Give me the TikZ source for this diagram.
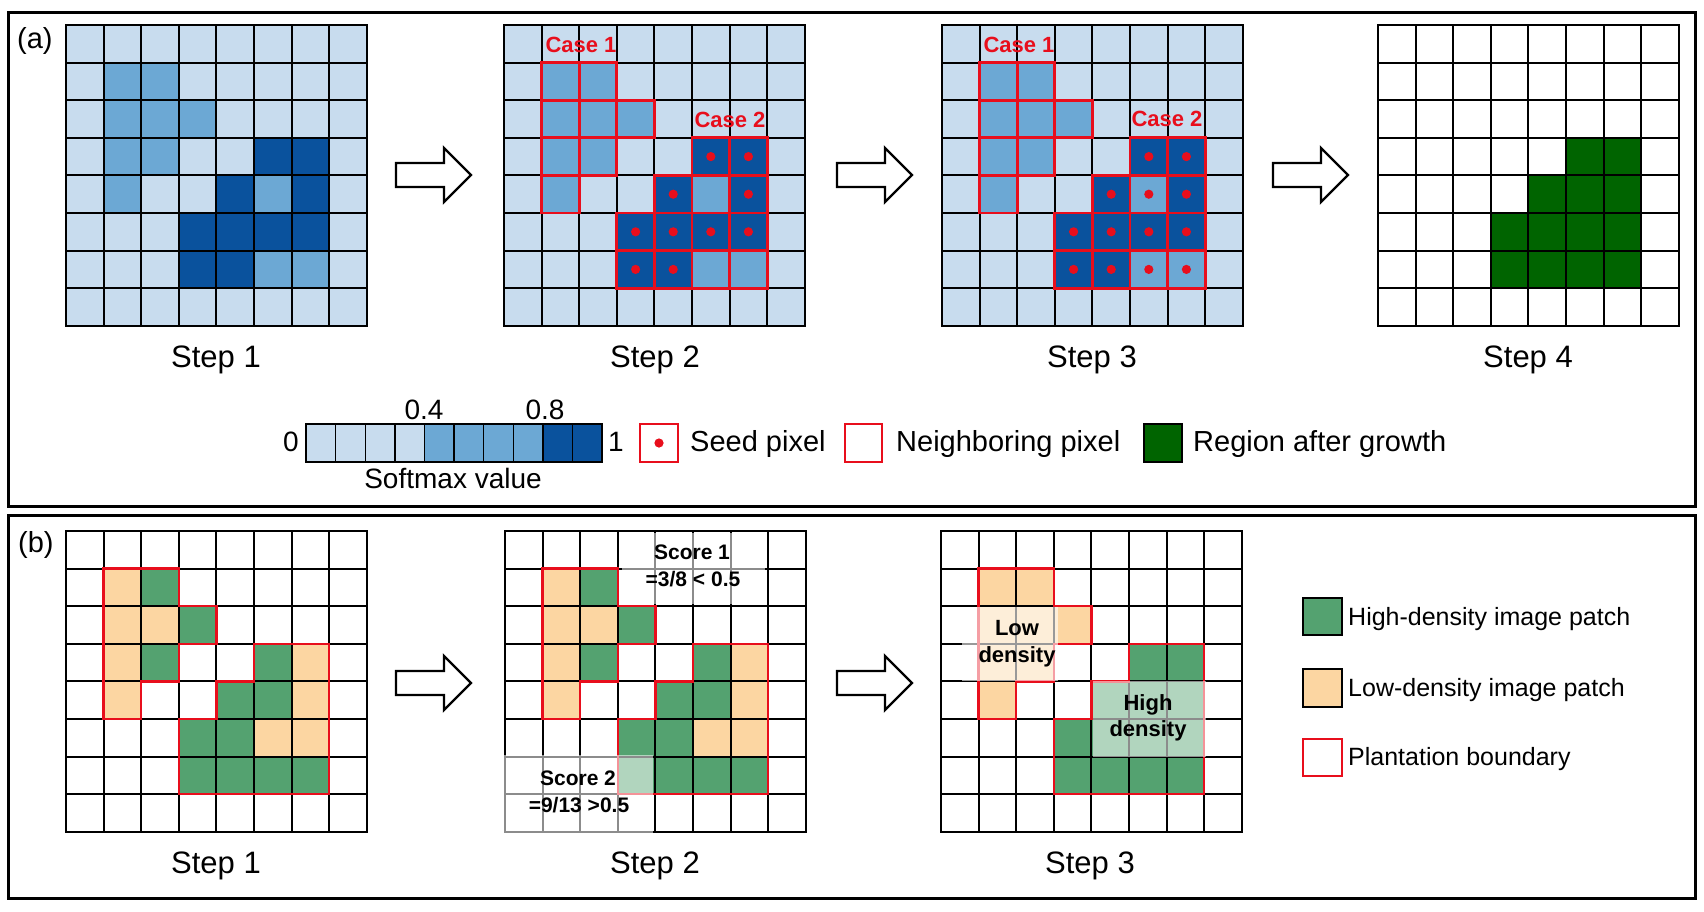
\documentclass[tikz,border=0pt]{standalone}
\usepackage{fontspec}
\setmainfont{Liberation Sans}
\definecolor{lb}{RGB}{200,220,238}
\definecolor{mb}{RGB}{108,168,212}
\definecolor{db}{RGB}{10,82,157}
\definecolor{dg}{RGB}{0,100,0}
\definecolor{hg}{RGB}{84,162,112}
\definecolor{lo}{RGB}{252,214,162}
\definecolor{rd}{RGB}{232,14,28}
\tikzset{
  gl/.style={line width=2pt, black, line cap=rect},
  rl/.style={line width=2.8pt, rd, line join=miter},
  rb/.style={line width=2.4pt, rd, line join=miter},
  frame/.style={line width=3pt, black},
  blockarrow/.style={line width=2.4pt, black, fill=white, line join=miter},
  steplbl/.style={inner sep=0pt, anchor=base, font=\fontsize{31}{35}\selectfont},
  panellbl/.style={inner sep=0pt, anchor=base west, font=\fontsize{29}{33}\selectfont},
  caselbl/.style={inner sep=0pt, anchor=base, text=rd, font=\fontsize{22}{26}\selectfont\bfseries},
  scorelbl/.style={inner sep=0pt, anchor=base, font=\fontsize{21}{25}\selectfont\bfseries},
  denslbl/.style={inner sep=0pt, anchor=base, font=\fontsize{22}{26}\selectfont\bfseries},
  legA/.style={inner sep=0pt, anchor=base west, font=\fontsize{29}{33}\selectfont},
  legAc/.style={inner sep=0pt, anchor=base, font=\fontsize{28}{32}\selectfont},
  legB/.style={inner sep=0pt, anchor=base west, font=\fontsize{25}{29}\selectfont},
  veil/.style={fill=white, fill opacity=0.55},
}
\newcommand{\gridlinesall}{\foreach \i in {0,...,8}{\draw[gl] (\i,0)--(\i,8); \draw[gl] (0,\i)--(8,\i);}}
\newcommand{\bluecells}{%
  \fill[lb] (0,0) rectangle (8,8);
  \foreach \c/\r in {1/1,2/1,1/2,2/2,3/2,1/3,2/3,1/4,5/4,5/6,6/6} \fill[mb] (\c,\r) rectangle ++(1,1);
  \foreach \c/\r in {5/3,6/3,4/4,6/4,3/5,4/5,5/5,6/5,3/6,4/6} \fill[db] (\c,\r) rectangle ++(1,1);
}
\newcommand{\caseboxes}{%
  \foreach \c/\r in {1/1,2/1,1/2,2/2,3/2,1/3,2/3,1/4,5/3,6/3,4/4,5/4,6/4,3/5,4/5,5/5,6/5,3/6,4/6,5/6,6/6} \draw[rl] (\c,\r) rectangle ++(1,1);
}
\newcommand{\densitycells}{%
  \foreach \c/\r in {1/1,1/2,2/2,1/3,6/3,1/4,6/4,5/5,6/5} \fill[lo] (\c,\r) rectangle ++(1,1);
  \foreach \c/\r in {2/1,3/2,2/3,5/3,4/4,5/4,3/5,4/5,3/6,4/6,5/6,6/6} \fill[hg] (\c,\r) rectangle ++(1,1);
}
\newcommand{\boundaries}{%
  \draw[rb] (1,1)--(3,1)--(3,2)--(4,2)--(4,3)--(3,3)--(3,4)--(2,4)--(2,5)--(1,5)--cycle;
  \draw[rb] (5,3)--(7,3)--(7,7)--(3,7)--(3,5)--(4,5)--(4,4)--(5,4)--cycle;
}
\begin{document}
\begin{tikzpicture}[x=1pt,y=-1pt]
\useasboundingbox (0,0) rectangle (1704,911);
\fill[white] (0,0) rectangle (1704,911);
% panel frames
\draw[frame] (8,12) rectangle (1695,506);
\draw[frame] (8,515) rectangle (1695,898);
\node[panellbl] (pa) at (17,48) {(a)};
\node[panellbl] (pb) at (18,552) {(b)};

% ---------- (a) step 1
\begin{scope}[shift={(66,25)},x=37.6pt,y=-37.6pt]
  \bluecells
  \gridlinesall
\end{scope}
% ---------- (a) step 2
\begin{scope}[shift={(504,25)},x=37.6pt,y=-37.6pt]
  \bluecells
  \gridlinesall
  \caseboxes
  \foreach \c/\r in {5/3,6/3,4/4,6/4,3/5,4/5,5/5,6/5,3/6,4/6} \fill[rd] (\c+0.5,\r+0.5) circle (4.6pt);
\end{scope}
% ---------- (a) step 3
\begin{scope}[shift={(942,25)},x=37.6pt,y=-37.6pt]
  \bluecells
  \gridlinesall
  \caseboxes
  \foreach \c/\r in {5/3,6/3,4/4,5/4,6/4,3/5,4/5,5/5,6/5,3/6,4/6,5/6,6/6} \fill[rd] (\c+0.5,\r+0.5) circle (4.6pt);
\end{scope}
% ---------- (a) step 4
\begin{scope}[shift={(1378,25)},x=37.6pt,y=-37.6pt]
  \foreach \c/\r in {5/3,6/3,4/4,5/4,6/4,3/5,4/5,5/5,6/5,3/6,4/6,5/6,6/6} \fill[dg] (\c,\r) rectangle ++(1,1);
  \gridlinesall
\end{scope}
\node[caselbl] (c1a) at (581,52) {Case 1};
\node[caselbl] (c2a) at (730,127) {Case 2};
\node[caselbl] (c1b) at (1019,52) {Case 1};
\node[caselbl] (c2b) at (1167,126) {Case 2};

\node[steplbl] (s1a) at (216,367) {Step 1};
\node[steplbl] (s2a) at (655,367) {Step 2};
\node[steplbl] (s3a) at (1092,367) {Step 3};
\node[steplbl] (s4a) at (1528,367) {Step 4};

% block arrows
\foreach \xo/\yc in {396/175,837/175,1273/175,396/683,837/683}
  \draw[blockarrow] (\xo,\yc-12)--(\xo+48,\yc-12)--(\xo+48,\yc-27)--(\xo+75,\yc)--(\xo+48,\yc+27)--(\xo+48,\yc+12)--(\xo,\yc+12)--cycle;

% ---------- (a) legend
\foreach \i in {0,1,2,3} \fill[lb] (306+\i*29.6,424) rectangle ++(29.6,38);
\foreach \i in {4,5,6,7} \fill[mb] (306+\i*29.6,424) rectangle ++(29.6,38);
\foreach \i in {8,9} \fill[db] (306+\i*29.6,424) rectangle ++(29.6,38);
\foreach \i in {1,...,9} \draw[line width=1.4pt] (306+\i*29.6,424)--(306+\i*29.6,462);
\draw[line width=1.8pt] (306,424) rectangle (602,462);
\node[legAc] (l0) at (291,451) {0};
\node[legAc] (l1) at (616,451) {1};
\node[legAc] (l04) at (424,419) {0.4};
\node[legAc] (l08) at (545,419) {0.8};
\node[legAc] (lsm) at (453,488) {Softmax value};
\draw[rb] (640,424) rectangle (678,462);
\fill[rd] (659,443) circle (4.6pt);
\node[legA] (lseed) at (690,451) {Seed pixel};
\draw[rb] (845,424) rectangle (882,462);
\node[legA] (lnb) at (896,451) {Neighboring pixel};
\draw[line width=2pt, fill=dg] (1144,424) rectangle (1182,462);
\node[legA] (lrg) at (1193,451) {Region after growth};

% ---------- (b) step 1
\begin{scope}[shift={(66,531)},x=37.6pt,y=-37.6pt]
  \densitycells
  \gridlinesall
  \boundaries
\end{scope}
% ---------- (b) step 2
\begin{scope}[shift={(505,531)},x=37.6pt,y=-37.6pt]
  \densitycells
  \gridlinesall
  \boundaries
  \fill[veil] (3.1,0.06) rectangle (6.92,1.94);
  \fill[veil] (-0.08,5.95) rectangle (3.94,8.08);
\end{scope}
\node[scorelbl] (sc1) at (692,559) {Score 1};
\node[scorelbl] (sc1v) at (693,586) {=3/8 < 0.5};
\node[scorelbl] (sc2) at (578,785) {Score 2};
\node[scorelbl] (sc2v) at (579,812) {=9/13 >0.5};
% ---------- (b) step 3
\begin{scope}[shift={(941,531)},x=37.6pt,y=-37.6pt]
  \foreach \c/\r in {1/1,2/1,1/2,2/2,3/2,1/3,2/3,1/4} \fill[lo] (\c,\r) rectangle ++(1,1);
  \foreach \c/\r in {5/3,6/3,4/4,5/4,6/4,3/5,4/5,5/5,6/5,3/6,4/6,5/6,6/6} \fill[hg] (\c,\r) rectangle ++(1,1);
  \gridlinesall
  \boundaries
  \fill[white, fill opacity=0.6] (0.55,2.02) rectangle (3.1,4.0);
  \fill[veil] (4.03,4.0) rectangle (7.06,6.0);
\end{scope}
\node[denslbl] (lowt) at (1017,635) {Low};
\node[denslbl] (lowd) at (1017,662) {density};
\node[denslbl] (hight) at (1148,710) {High};
\node[denslbl] (highd) at (1148,736) {density};

\node[steplbl] (s1b) at (216,873) {Step 1};
\node[steplbl] (s2b) at (655,873) {Step 2};
\node[steplbl] (s3b) at (1090,873) {Step 3};

% ---------- (b) legend
\draw[line width=2.2pt, fill=hg] (1303,598) rectangle (1342,635);
\node[legB] (lhd) at (1348,625) {High-density image patch};
\draw[line width=2.2pt, fill=lo] (1303,669) rectangle (1342,707);
\node[legB] (lld) at (1348,696) {Low-density image patch};
\draw[rb, fill=white] (1303,739) rectangle (1342,776);
\node[legB] (lpb) at (1348,765) {Plantation boundary};
\end{tikzpicture}
\end{document}
